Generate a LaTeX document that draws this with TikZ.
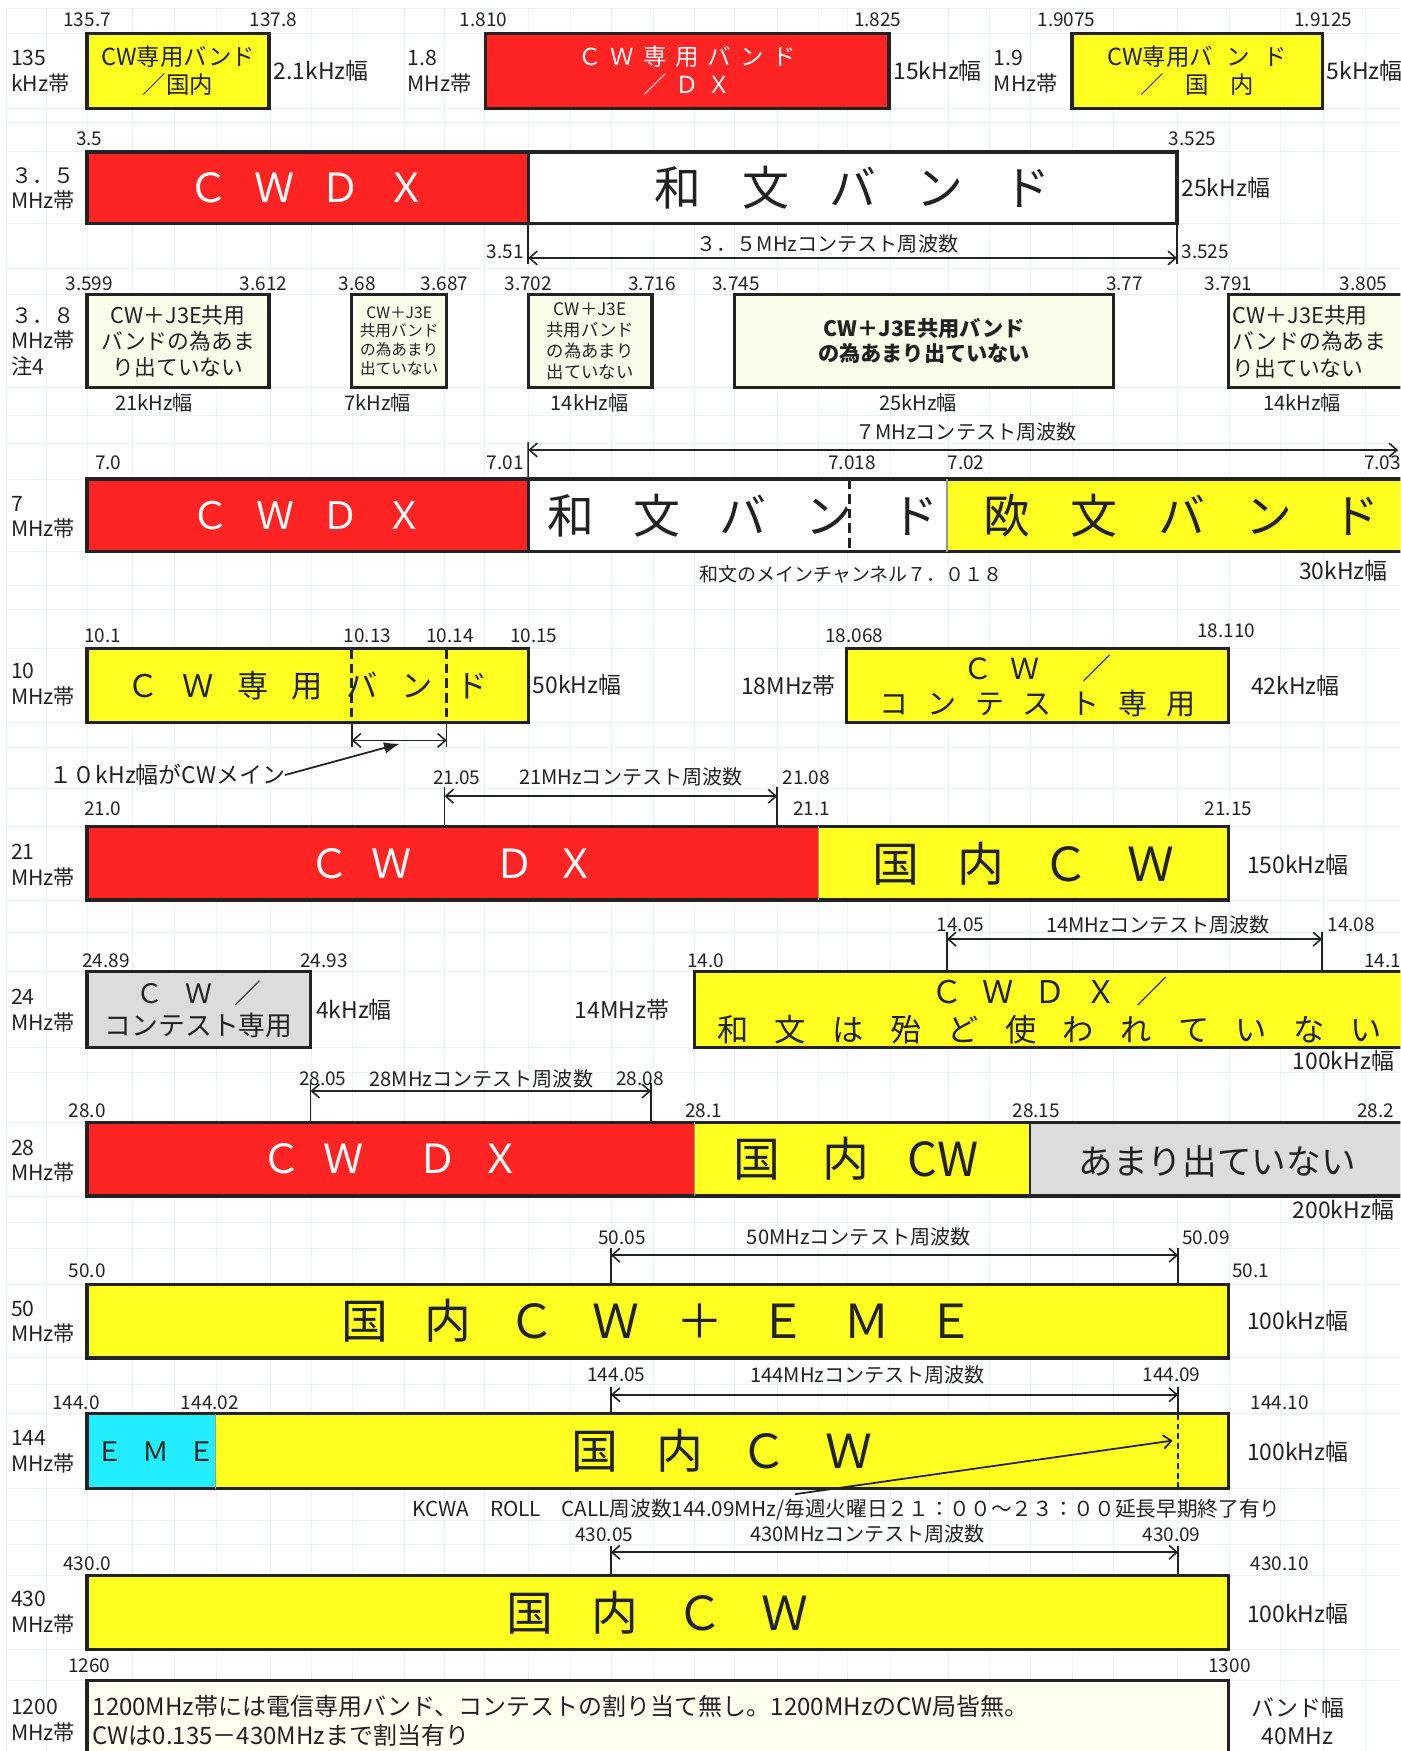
\documentclass[tikz,border=0pt]{standalone}
\usepackage{fontspec}
\setmainfont{Noto Sans CJK JP}
\usetikzlibrary{arrows.meta}
\newdimen\pxu \pxu=0.02cm
\newcommand\fz[1]{\fontsize{#1\pxu}{\dimexpr#1\pxu*6/5\relax}\selectfont}
\ExplSyntaxOn
\NewDocumentCommand\pb{mm}{\tl_map_inline:nn{#2}{\makebox[#1]{##1}}}
\ExplSyntaxOff
\definecolor{cred}{HTML}{FF2424}
\definecolor{cyel}{HTML}{FFFF22}
\definecolor{cgray}{HTML}{DCDCDC}
\definecolor{ccyan}{HTML}{22EEFF}
\definecolor{cpale}{HTML}{FAFDE9}
\definecolor{cpaleb}{HTML}{FFFFF0}
\definecolor{bline}{HTML}{222222}
\definecolor{cgrid}{HTML}{E8F2FA}
\tikzset{
  every node/.style={inner sep=0pt, outer sep=0pt, text=bline},
  num/.style={font=\fz{17}},
  lab/.style={font=\fz{19}, align=left, anchor=west},
  wid/.style={font=\fz{20.5}},
  ttl/.style={font=\fz{18}},
  sgbase/.style={anchor=north west, align=center},
  box/.style={draw=bline, line width=1.7pt},
  dv/.style={draw=gray!80, line width=0.9pt},
  dvk/.style={draw=bline, line width=0.9pt},
  gridline/.style={draw=cgrid, line width=0.5pt},
  tickline/.style={draw=bline, line width=0.8pt},
  rng/.style={draw=bline, line width=0.8pt, arrows={Straight Barb[length=4pt,width=7pt]-Straight Barb[length=4pt,width=7pt]}},
  dshk/.style={draw=bline, line width=1.5pt, dash pattern=on 5pt off 2.5pt},
  dsht/.style={draw=bline, line width=0.8pt, dash pattern=on 3pt off 2pt},
}
\newcommand\sg[8][]{\node[sgbase, fill=#7, minimum width={(#5-#3)*\pxu}, minimum height={(#6-#4)*\pxu}, #1] (#2) at (#3,#4) {#8};}
\newcommand\crng[6]{%
  \coordinate (#1t1) at (#2,#5); \coordinate (#1b1) at (#2,#6);
  \coordinate (#1t2) at (#3,#5); \coordinate (#1b2) at (#3,#6);
  \coordinate (#1a1) at (#2,#4); \coordinate (#1a2) at (#3,#4);
  \draw[tickline] (#1t1) -- (#1b1); \draw[tickline] (#1t2) -- (#1b2);
  \draw[rng] (#1a1) -- (#1a2);}
\begin{document}
\begin{tikzpicture}[x=0.02cm,y=-0.02cm]
\useasboundingbox (0,0) rectangle (1254,1568);
\fill[white] (0,0) rectangle (1254,1568);
\clip (0,0) rectangle (1254,1568);
% grid
\foreach \gx in {6,42,78,119,156,194,242,279,316,362,398,434,473,511,548,585,622,658,696,733,759,797,849,886,923,960,997,1054,1101,1147,1185,1223}
  \draw[gridline] (\gx,8) -- (\gx,1568);
\foreach \gy in {8,30,97,110,136,200,240,264,347,372,397,429,494,524,546,581,647,669,706,740,806,835,870,938,960,1005,1071,1095,1118,1150,1216,1240,1266,1333,1362,1383,1411,1477,1505}
  \draw[gridline] (6,\gy) -- (1254,\gy);

% numeric labels
\foreach \x/\y/\t [count=\i] in {78/18/135.7, 245/18/137.8, 433/18/1.810, 786/18/1.825, 955/18/1.9075, 1185/18/1.9125,
  80/124/3.5, 1068/124/3.525,
  80/254/3.599, 236/254/3.612, 320/254/3.68, 398/254/3.687, 473/254/3.702, 584/254/3.716, 659/254/3.745, 1007/254/3.77, 1100/254/3.791, 1221/254/3.805,
  97/414/7.0, 763/414/7.018, 865/414/7.02, 1238/414/7.03,
  92/569/10.1, 329/569/10.13, 403/569/10.14, 478/569/10.15, 765/569/18.068, 1098/565/18.110,
  409/696/21.05, 722/696/21.08, 92/724/21.0, 727/724/21.1, 1100/724/21.15,
  860/828/14.05, 1210/828/14.08, 95/860/24.89, 290/860/24.93, 632/860/14.0, 1238/860/14.1,
  289/966/28.05, 573/966/28.08, 78/995/28.0, 630/995/28.1, 928/995/28.15, 1232/995/28.2,
  557/1108/50.05, 1080/1108/50.09, 78/1138/50.0, 1120/1138/50.1,
  552/1231/144.05, 1049/1231/144.09, 68/1256/144.0, 188/1256/144.02, 1146/1256/144.10,
  541/1374/430.05, 1049/1374/430.09, 78/1400/430.0, 1146/1400/430.10,
  80/1492/1260, 1101/1492/1300}
  \node[num] (nl\i) at (\x,\y) {\t};
\node[num, anchor=east] (n351) at (469,225) {3.51};
\node[num, anchor=west] (n3525) at (1058,225) {3.525};
\node[num, anchor=east] (n701) at (469,414) {7.01};

% band labels
\node[lab] (t135) at (10,64) {135\\kHz帯};
\node[lab] (t18) at (365,64) {1.8\\MHz帯};
\node[lab] (t19) at (890,64) {1.9\\MHz帯};
\node[lab] (t35) at (10,169) {３．５\\MHz帯};
\node[lab] (t38) at (10,306) {３．８\\MHz帯\\注4};
\node[lab] (t7) at (10,463) {7\\MHz帯};
\node[lab] (t10) at (10,613) {10\\MHz帯};
\node[lab] (t21) at (10,775) {21\\MHz帯};
\node[lab] (t24) at (10,905) {24\\MHz帯};
\node[lab] (t28) at (10,1040) {28\\MHz帯};
\node[lab] (t50) at (10,1184) {50\\MHz帯};
\node[lab] (t144) at (10,1300) {144\\MHz帯};
\node[lab] (t430) at (10,1444) {430\\MHz帯};
\node[lab] (t1200) at (10,1541) {1200\\MHz帯};

% width labels
\node[wid, anchor=west] (w1) at (245,63) {2.1kHz幅};
\node[wid, anchor=west] (w2) at (800,63) {15kHz幅};
\node[wid, anchor=west] (w3) at (1188,63) {5kHz幅};
\node[wid, anchor=west] (w4) at (1058,168) {25kHz幅};
\node[wid, font=\fz{18}] (w5) at (138,361) {21kHz幅};
\node[wid, font=\fz{18}] (w6) at (338,361) {7kHz幅};
\node[wid, font=\fz{18}] (w7) at (528,361) {14kHz幅};
\node[wid, font=\fz{18}] (w8) at (822,361) {25kHz幅};
\node[wid, font=\fz{18}] (w9) at (1166,361) {14kHz幅};
\node[wid] (w10) at (1203,511) {30kHz幅};
\node[wid, anchor=west] (w11) at (477,613) {50kHz幅};
\node[wid] (w12) at (706,614) {18MHz帯};
\node[wid] (w13) at (1160,614) {42kHz幅};
\node[wid] (w14) at (1162,774) {150kHz幅};
\node[wid, anchor=west] (w15) at (283,904) {4kHz幅};
\node[wid] (w16) at (557,904) {14MHz帯};
\node[wid] (w17) at (1203,950) {100kHz幅};
\node[wid] (w18) at (1203,1083) {200kHz幅};
\node[wid] (w19) at (1162,1183) {100kHz幅};
\node[wid] (w20) at (1162,1300) {100kHz幅};
\node[wid] (w21) at (1162,1445) {100kHz幅};
\node[wid, align=center] (w22) at (1162,1541) {バンド幅\\40MHz};

% contest titles
\node[ttl] (k35) at (741,218) {３．５MHzコンテスト周波数};
\node[ttl] (k7) at (865,387) {７MHzコンテスト周波数};
\node[ttl] (k21) at (565,696) {21MHzコンテスト周波数};
\node[ttl] (k14) at (1037,828) {14MHzコンテスト周波数};
\node[ttl] (k28) at (431,966) {28MHzコンテスト周波数};
\node[ttl] (k50) at (769,1108) {50MHzコンテスト周波数};
\node[ttl] (k144) at (777,1231) {144MHzコンテスト周波数};
\node[ttl] (k430) at (777,1374) {430MHzコンテスト周波数};

% row 1
\sg[box,font=\fz{21}]{b135}{78}{30}{241}{97}{cyel}{CW専用バンド\\／国内}
\sg[box,font=\fz{21},text=white]{b18}{435}{30}{796}{97}{cred}{\pb{29\pxu}{ＣＷ専用バンド}\\\pb{29\pxu}{／ＤＸ}}
\sg[box,font=\fz{21}]{b19}{960}{30}{1184}{97}{cyel}{CW専用バ\hspace{12\pxu}ン\hspace{12\pxu}ド\\\pb{40\pxu}{／国内}}

% 3.5
\sg[box,font=\fz{36},text=white]{r35a}{78}{136}{473}{200}{cred}{\pb{59\pxu}{ＣＷＤＸ}}
\sg[box,font=\fz{42}]{r35b}{473}{136}{1054}{200}{white}{\pb{78\pxu}{和文バンド}}
\crng{c35}{473}{1054}{231}{200}{236}

% 3.8
\sg[box,font=\fz{19.5}]{p1}{78}{264}{241}{347}{cpale}{CW＋J3E共用\\バンドの為あま\\り出ていない}
\sg[box,font=\fz{14}]{p2}{315}{264}{400}{347}{cpale}{CW＋J3E\\共用バンド\\の為あまり\\出ていない}
\sg[box,font=\fz{15.5}]{p3}{473}{264}{584}{347}{cpale}{CW＋J3E\\共用バンド\\の為あまり\\出ていない}
\sg[box,font=\fz{19}\bfseries]{p4}{658}{264}{997}{347}{cpale}{CW＋J3E共用バンド\\の為あまり出ていない}
\sg[box]{p5}{1100}{264}{1264}{347}{cpale}{}
\node[font=\fz{19.5}, align=left, anchor=west] (p5t) at (1104,306) {CW＋J3E共用\\バンドの為あま\\り出ていない};

% 7
\coordinate (c7a) at (473,403); \coordinate (c7b) at (1252,403); \coordinate (c7t) at (473,396);
\draw[rng] (c7a) -- (c7b);
\sg[box,font=\fz{34},text=white]{r7a}{78}{429}{473}{494}{cred}{\pb{58\pxu}{ＣＷＤＸ}}
\draw[tickline] (c7t) -- (r7a.north east);
\sg[font=\fz{42}]{r7b}{473}{429}{848}{494}{white}{\pb{77\pxu}{和文バンド}}
\sg[font=\fz{42}]{r7c}{848}{429}{1268}{494}{cyel}{\pb{78\pxu}{欧文バンド}}
\draw[box] (r7b.north west) rectangle (r7c.south east);
\draw[dv] (r7c.north west) -- (r7c.south west);
\coordinate (d7t) at (761,429); \coordinate (d7b) at (761,494);
\draw[dshk] (d7t) -- (d7b);
\node[font=\fz{17}] (m7) at (762,514) {和文のメインチャンネル７．０１８};

% 10 / 18
\sg[box,font=\fz{28}]{r10}{78}{581}{473}{647}{cyel}{\pb{49\pxu}{ＣＷ専用バンド}}
\coordinate (d10at) at (315,581); \coordinate (d10ab) at (315,647);
\coordinate (d10bt) at (400,581); \coordinate (d10bb) at (400,647);
\draw[dshk] (d10at) -- (d10ab); \draw[dshk] (d10bt) -- (d10bb);
\crng{c10}{315}{400}{663}{647}{669}
\node[font=\fz{20.5}] (m10) at (150,694) {１０kHz幅がCWメイン};
\coordinate (m10e) at (358,666);
\draw[line width=0.9pt, draw=bline, arrows={-Latex[length=8pt,width=6pt]}] (m10.east) -- (m10e);
\sg[box,font=\fz{26}]{r18}{758}{581}{1100}{647}{cyel}{\pb{42\pxu}{ＣＷ}\hspace{22\pxu}\makebox[42\pxu]{／}\\\pb{42.8\pxu}{コンテスト専用}}

% 21
\crng{c21}{398}{696}{713}{705}{740}
\sg[font=\fz{36},text=white]{r21a}{78}{740}{733}{806}{cred}{\pb{55\pxu}{ＣＷ{}ＤＸ}}
\sg[font=\fz{42}]{r21b}{733}{740}{1100}{806}{cyel}{\pb{76\pxu}{国内ＣＷ}}
\draw[box] (r21a.north west) rectangle (r21b.south east);
\draw[dv] (r21b.north west) -- (r21b.south west);

% 24 / 14
\crng{c14}{848}{1184}{841}{835}{870}
\sg[box,font=\fz{24}]{r24}{78}{870}{278}{938}{cgray}{\pb{44\pxu}{ＣＷ／}\\コンテスト専用}
\sg[box]{r14}{622}{870}{1264}{938}{cyel}{}
\node[font=\fz{28}, align=center] (r14t) at (940,905) {\pb{46\pxu}{ＣＷＤＸ／}\\\pb{51.6\pxu}{和文は殆ど使われていない}};

% 28
\crng{c28}{278}{583}{977}{970}{1005}
\sg[font=\fz{36},text=white]{r28a}{78}{1005}{622}{1071}{cred}{\pb{56\pxu}{ＣＷ}\hspace{28\pxu}\pb{56\pxu}{ＤＸ}}
\sg[font=\fz{42}]{r28b}{622}{1005}{922}{1071}{cyel}{\pb{80\pxu}{国内}\hspace{15\pxu}CW\hspace*{30\pxu}}
\sg{r28c}{922}{1005}{1264}{1071}{cgray}{}
\node[font=\fz{31}] (r28t) at (1090,1040) {あまり出ていない};
\draw[box] (r28a.north west) rectangle (r28c.south east);
\draw[dv] (r28b.north west) -- (r28b.south west);
\draw[dvk] (r28c.north west) -- (r28c.south west);

% 50
\crng{c50}{547}{1055}{1124}{1118}{1150}
\sg[box,font=\fz{42}]{r50}{78}{1150}{1100}{1216}{cyel}{\pb{75\pxu}{国内ＣＷ＋ＥＭＥ}}

% 144
\crng{c144}{547}{1055}{1249}{1242}{1266}
\sg[font=\fz{24}]{r144a}{78}{1266}{193}{1333}{ccyan}{\pb{41\pxu}{ＥＭＥ}}
\sg[font=\fz{42}]{r144b}{193}{1266}{1100}{1333}{cyel}{\pb{76\pxu}{国内ＣＷ}}
\draw[box] (r144a.north west) rectangle (r144b.south east);
\draw[dv] (r144b.north west) -- (r144b.south west);
\coordinate (d144t) at (1055,1266); \coordinate (d144b) at (1055,1333);
\draw[dsht] (d144t) -- (d144b);
\node[font=\fz{18.5}] (kcwa) at (758,1352) {KCWA　ROLL　CALL周波数144.09MHz/毎週火曜日２１：００～２３：００延長早期終了有り};
\coordinate (kc1) at (712,1338); \coordinate (kc2) at (1050,1290);
\draw[line width=0.9pt, draw=bline, arrows={-Straight Barb[length=4pt,width=7pt]}] (kc1) -- (kc2);

% 430
\crng{c430}{547}{1055}{1390}{1384}{1411}
\sg[box,font=\fz{42}]{r430}{78}{1411}{1100}{1477}{cyel}{\pb{76\pxu}{国内ＣＷ}}

% 1200
\sg[box]{r1200}{78}{1505}{1100}{1585}{cpaleb}{}
\node[font=\fz{21.5}, align=left, anchor=west] (t1200b) at (83,1541) {1200MHz帯には電信専用バンド、コンテストの割り当て無し。1200MHzのCW局皆無。\\CWは0.135－430MHzまで割当有り};
\end{tikzpicture}
\end{document}
